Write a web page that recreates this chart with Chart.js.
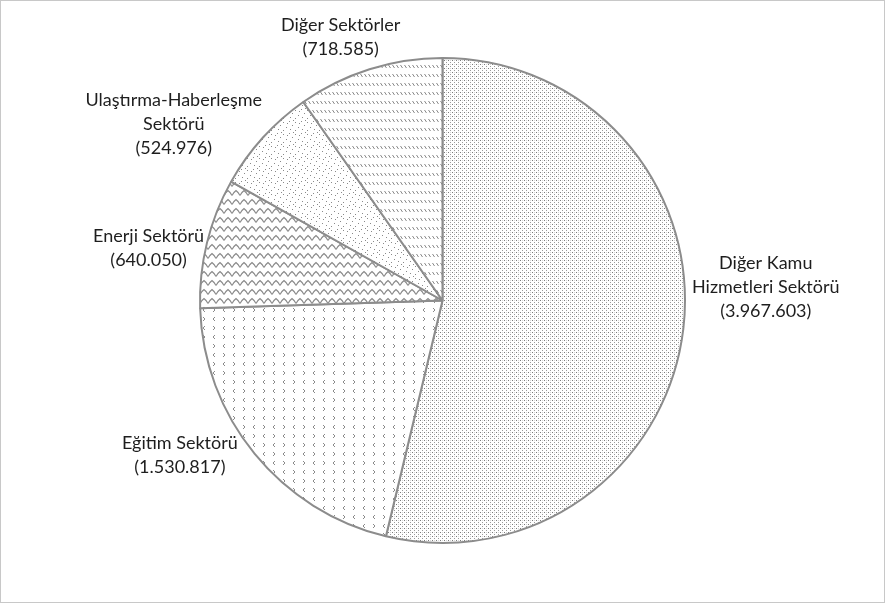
<!DOCTYPE html>
<html>
<head>
<meta charset="utf-8">
<script src="https://cdn.jsdelivr.net/npm/chart.js@4"></script>
<style>
    html, body { margin: 0; padding: 0; background: #fff; }
    #wrap { position: relative; width: 885px; height: 603px; }
    #frame { position: absolute; left: 0; top: 0; width: 883px; height: 601px; border: 1px solid #c8c8c8; pointer-events: none; }
</style>
</head>
<body>
<div id="wrap">
    <canvas id="pieChart" width="885" height="603"></canvas>
    <div id="frame"></div>
</div>
<script>
/* ---------- DATA ---------- */
let categories = [
    ["Diğer Kamu", "Hizmetleri Sektörü"],
    ["Eğitim Sektörü"],
    ["Enerji Sektörü"],
    ["Ulaştırma-Haberleşme", "Sektörü"],
    ["Diğer Sektörler"]
];
let values = [3967603, 1530817, 640050, 524976, 718585];

/* label block centre, relative to pie centre, in units of radius */
let labelPlacement = [
    [1.333, -0.056],
    [-1.083, 0.638],
    [-1.212, -0.217],
    [-1.108, -0.727],
    [-0.42, -1.085]
];

function formatTR(n) {
    return String(n).replace(/\B(?=(\d{3})+(?!\d))/g, ".");
}

/* ---------- PATTERNS ---------- */
function makeTile(w, h, draw) {
    let c = document.createElement("canvas");
    c.width = w;
    c.height = h;
    let g = c.getContext("2d");
    g.fillStyle = "#fff";
    g.fillRect(0, 0, w, h);
    draw(g);
    return g.createPattern(c, "repeat");
}

let dotsDense = makeTile(4, 4, g => {
    g.fillStyle = "#7c7c7c";
    g.fillRect(0, 0, 1, 1);
    g.fillStyle = "#9a9a9a";
    g.fillRect(2, 2, 1, 1);
    g.fillStyle = "#d8d8d8";
    g.fillRect(2, 0, 1, 1);
});

let chevrons = makeTile(20, 18, g => {
    g.strokeStyle = "#8a8a8a";
    g.lineWidth = 1;
    function mark(x, y, dir) {
        g.beginPath();
        g.moveTo(x + 2 * dir, y);
        g.lineTo(x, y + 2);
        g.lineTo(x + 2 * dir, y + 4);
        g.stroke();
    }
    mark(3, 2, 1);
    mark(15, 2, -1);
    mark(13, 11, 1);
    mark(5, 11, -1);
});

let zigzag = makeTile(8, 9, g => {
    g.strokeStyle = "#8a8a8a";
    g.lineWidth = 1.2;
    g.beginPath();
    g.moveTo(0, 6.5);
    g.lineTo(2, 3.5);
    g.lineTo(4, 1.5);
    g.lineTo(6, 3.5);
    g.lineTo(8, 6.5);
    g.stroke();
});

let dotsSparse = makeTile(12, 12, g => {
    g.fillStyle = "#8a8a8a";
    [[1, 1], [7, 2], [4, 5], [10, 7], [2, 9], [7, 10], [11, 3], [5, 0]].forEach(p => {
        g.fillRect(p[0], p[1], 1, 1);
    });
});

let dashRows = makeTile(4, 9, g => {
    g.strokeStyle = "#888";
    g.lineWidth = 1;
    g.beginPath();
    g.moveTo(0.5, 2);
    g.lineTo(2.5, 5);
    g.stroke();
});

let fills = [dotsDense, chevrons, zigzag, dotsSparse, dashRows];

/* ---------- LABELS ---------- */
let sliceLabels = {
    id: "sliceLabels",
    afterDraw(chart) {
        let ctx = chart.ctx;
        let arcs = chart.getDatasetMeta(0).data;
        ctx.save();
        ctx.font = "18px Lato, 'Open Sans', sans-serif";
        ctx.fillStyle = "#1e1e1e";
        ctx.textAlign = "center";
        ctx.textBaseline = "middle";
        arcs.forEach((arc, i) => {
            let lines = categories[i].concat("(" + formatTR(values[i]) + ")");
            let cx = arc.x + arc.outerRadius * labelPlacement[i][0];
            let cy = arc.y + arc.outerRadius * labelPlacement[i][1];
            let lh = 24;
            let top = cy - (lines.length - 1) * lh / 2;
            lines.forEach((t, k) => ctx.fillText(t, cx, top + k * lh));
        });
        ctx.restore();
    }
};

/* ---------- CHART ---------- */
new Chart(document.getElementById("pieChart"), {
    type: "pie",
    data: {
        labels: categories.map(c => c.join(" ")),
        datasets: [{
            data: values,
            backgroundColor: fills,
            borderColor: "#8c8c8c",
            borderWidth: 2
        }]
    },
    options: {
        responsive: false,
        animation: false,
        layout: { padding: { top: 57, bottom: 59, left: 0, right: 0 } },
        plugins: {
            legend: { display: false },
            tooltip: { enabled: false }
        }
    },
    plugins: [sliceLabels]
});
</script>
</body>
</html>
